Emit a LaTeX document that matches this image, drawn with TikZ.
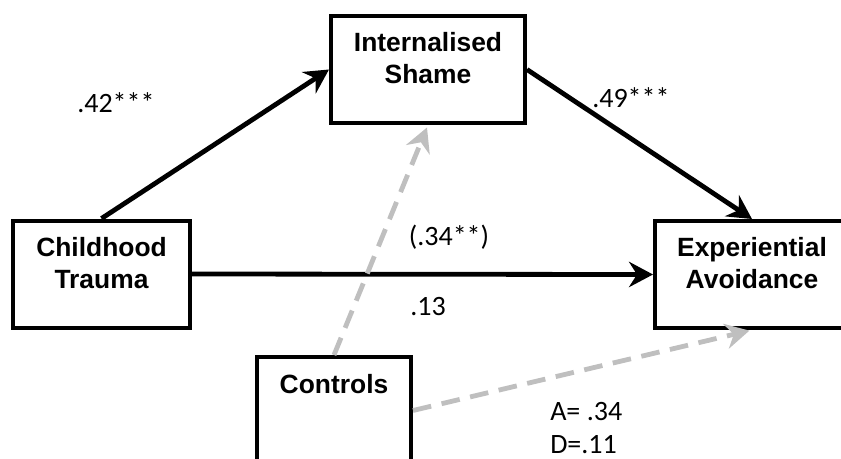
\documentclass[tikz,border=0pt]{standalone}
\usepackage{fontspec}
\setmainfont{Liberation Sans}
\newfontfamily\calibfont{Carlito}
\usetikzlibrary{arrows.meta}

\tikzset{
  varbox/.style={draw=black, line width=3pt, align=center, inner sep=0pt,
    font=\bfseries\fontsize{19.8}{24}\selectfont,
    minimum height=80.25pt, text height=38pt, text depth=17pt},
  onebox/.style={varbox, text height=14pt, text depth=40.25pt},
  pathline/.style={line width=3.6pt, -{Stealth[length=18pt,width=19pt,inset=6pt]}},
  ctrlline/.style={line width=3.6pt, black!25, dash pattern=on 14pt off 8pt,
    -{Stealth[length=18pt,width=19pt,inset=6pt]}},
  coef/.style={inner sep=0pt, anchor=base, font=\calibfont\fontsize{21}{25}\selectfont}
}

\begin{document}
\begin{tikzpicture}[x=0.75pt,y=-0.75pt]
        \useasboundingbox (0,0) rectangle (841,458);
        \node[varbox, minimum width=132.75pt] (trauma) at (101.5,274) {Childhood\\Trauma};
        \node[varbox, minimum width=145.5pt] (shame) at (428,69.5) {Internalised\\Shame};
        \node[varbox, minimum width=145.5pt] (avoid) at (752,274.5) {Experiential\\Avoidance};
        \node[onebox, minimum width=115.5pt] (controls) at (334,410.5) {Controls};
        \draw[pathline] (trauma.north) -- (shame.west);
        \draw[pathline] (shame.east) -- (avoid.north);
        \draw[pathline] (trauma.east) -- (avoid.west);
        \draw[ctrlline, shorten >=2pt] (controls.north) -- (shame.south);
        \draw[ctrlline, shorten >=2pt] (controls.east) -- (avoid.south);
        \node[coef, anchor=base west] (pathA) at (77,112) {.42***};
        \node[coef, anchor=base west] (pathB) at (592,107) {.49***};
        \node[coef] (total) at (449,245) {(.34**)};
        \node[coef] (direct) at (428,315) {.13};
        \node[coef, anchor=base west] (anxious) at (550,420) {A= .34};
        \node[coef, anchor=base west] (depress) at (550,453) {D=.11};
\end{tikzpicture}
\end{document}
